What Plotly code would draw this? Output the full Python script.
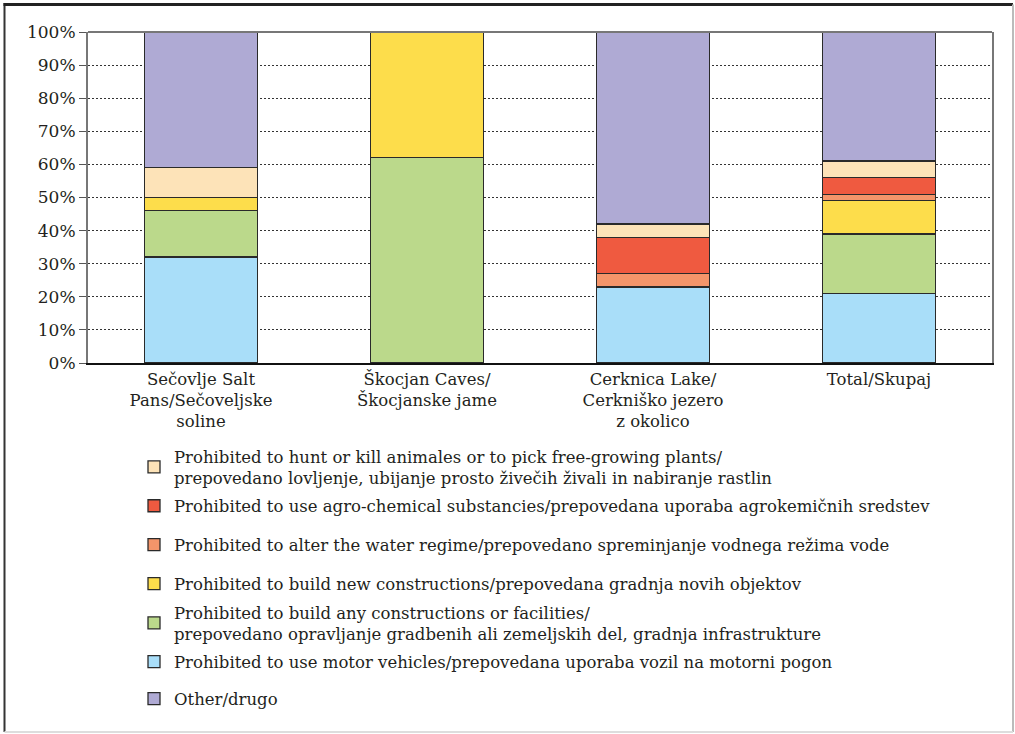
import plotly.graph_objects as go

# Protected-area restrictions, share of all restrictions (%) per area
sites = [
    "Sečovlje Salt<br>Pans/Sečoveljske<br>soline",
    "Škocjan Caves/<br>Škocjanske jame",
    "Cerknica Lake/<br>Cerkniško jezero<br>z okolico",
    "Total/Skupaj",
]

motor_vehicles = [32, 0, 23, 21]
any_constructions = [14, 62, 0, 18]
new_constructions = [4, 38, 0, 10]
water_regime = [0, 0, 4, 2]
agro_chemical = [0, 0, 11, 5]
hunt_pick = [9, 0, 4, 5]
other = [41, 0, 58, 39]

y_ticks = [0, 10, 20, 30, 40, 50, 60, 70, 80, 90, 100]
y_tick_labels = [f"{v}%" for v in y_ticks]

FONT = "DejaVu Serif, serif"
TEXT = "#231f20"

W, H = 1015, 734
L, R, T, B = 88, 23, 32, 371
pw, ph = W - L - R, H - T - B

# stacking order bottom -> top; each series gets its own legend box,
# stacked under the chart (vertical centre of each legend row, in px)
series = [
    ("Prohibited to use motor vehicles/prepovedana uporaba vozil na motorni pogon",
     motor_vehicles, "#A9DEF9", 662),
    ("Prohibited to build any constructions or facilities/<br>"
     "prepovedano opravljanje gradbenih ali zemeljskih del, gradnja infrastrukture",
     any_constructions, "#BBD98B", 623),
    ("Prohibited to build new constructions/prepovedana gradnja novih objektov",
     new_constructions, "#FDDD4B", 584),
    ("Prohibited to alter the water regime/prepovedano spreminjanje vodnega režima vode",
     water_regime, "#F4956A", 545),
    ("Prohibited to use agro-chemical substancies/prepovedana uporaba agrokemičnih sredstev",
     agro_chemical, "#EF5A40", 506),
    ("Prohibited to hunt or kill animales or to pick free-growing plants/<br>"
     "prepovedano lovljenje, ubijanje prosto živečih živali in nabiranje rastlin",
     hunt_pick, "#FDE3B8", 467),
    ("Other/drugo", other, "#AFAAD4", 699),
]

fig = go.Figure()
legends = {}
for i, (name, vals, color, row_y) in enumerate(series):
    key = "legend" if i == 0 else f"legend{i + 1}"
    fig.add_trace(go.Bar(
        x=list(range(len(sites))),
        y=vals,
        name=name,
        marker=dict(color=color, line=dict(color="#2a2a2a", width=1.3)),
        width=0.5,
        legend=key,
    ))
    legends[key] = dict(
        xref="container", yref="container",
        x=134 / W, y=1 - row_y / H, xanchor="left", yanchor="middle",
        font=dict(family=FONT, size=16.5, color=TEXT),
        bgcolor="rgba(0,0,0,0)", borderwidth=0, itemwidth=30,
    )


def px(x):
    return (x - L) / pw


def py(y):
    return (H - B - y) / ph


shapes = [
    # top edge of the plotting box
    dict(type="line", xref="paper", yref="paper", x0=0, x1=1, y0=1, y1=1,
         line=dict(color="#777777", width=2)),
    # outer frame
    dict(type="line", xref="paper", yref="paper", x0=px(4.5), x1=px(4.5),
         y0=py(3), y1=py(732), line=dict(color="#333333", width=2)),
    dict(type="line", xref="paper", yref="paper", x0=px(3.5), x1=px(1013),
         y0=py(4.5), y1=py(4.5), line=dict(color="#222222", width=3)),
    dict(type="line", xref="paper", yref="paper", x0=px(1013), x1=px(1013),
         y0=py(4.5), y1=py(732), line=dict(color="#bbbbbb", width=2)),
    dict(type="line", xref="paper", yref="paper", x0=px(4.5), x1=px(1013),
         y0=py(732), y1=py(732), line=dict(color="#dddddd", width=2)),
]

fig.update_layout(
    width=W, height=H,
    margin=dict(l=L, r=R, t=T, b=B, pad=0, autoexpand=False),
    paper_bgcolor="white", plot_bgcolor="white",
    barmode="stack",
    font=dict(family=FONT, size=17, color=TEXT),
    showlegend=True,
    shapes=shapes,
    xaxis=dict(
        range=[-0.5, 3.5], tickmode="array",
        tickvals=list(range(len(sites))), ticktext=sites,
        showline=True, linecolor="#111111", linewidth=1.5,
        ticks="", showgrid=False, zeroline=False,
        tickfont=dict(family=FONT, size=16.5, color=TEXT),
    ),
    yaxis=dict(
        range=[0, 100], tickmode="array",
        tickvals=y_ticks, ticktext=y_tick_labels,
        showline=True, linecolor="#777777", linewidth=2, mirror=True,
        ticks="outside", ticklen=7, tickcolor="#555555", tickwidth=1,
        showgrid=True, gridcolor="#333333", gridwidth=1.2, griddash="2px,2px",
        zeroline=False,
        tickfont=dict(family=FONT, size=17, color=TEXT),
    ),
    **legends,
)

fig.write_html("out.html")
